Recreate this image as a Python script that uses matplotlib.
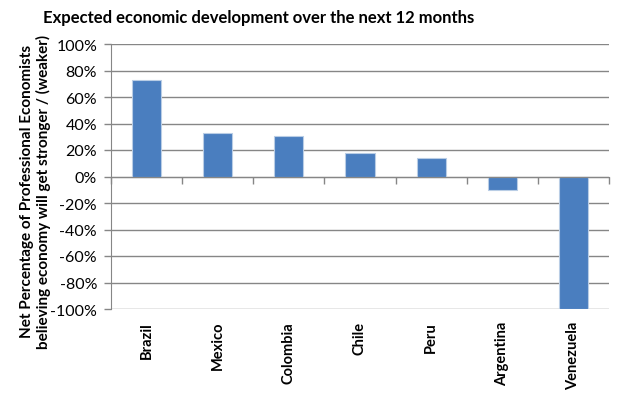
import matplotlib
matplotlib.use("Agg")
import matplotlib.pyplot as plt
import matplotlib.transforms as mtransforms
from matplotlib.ticker import FuncFormatter, MultipleLocator

categories = ["Brazil", "Mexico", "Colombia", "Chile", "Peru", "Argentina", "Venezuela"]
values = [72.5, 33.1, 30.3, 18.0, 14.2, -10.4, -100.0]
title = "Expected economic development over the next 12 months"
ylabel = "Net Percentage of Professional Economists\nbelieving economy will get stronger / (weaker)"

plt.rcParams['font.family'] = ['Lato', 'DejaVu Sans']

fig = plt.figure(figsize=(6.18, 4.10), dpi=100)
ax = fig.add_axes([111/618, 1-310/410, (609-111)/618, (310-45)/410])

x = list(range(1, len(categories)+1))
ax.bar(x, values, width=0.41, color="#4A7EBF", edgecolor="#B9CDE5", linewidth=0.8, zorder=3)

ax.set_xlim(0.5, len(categories)+0.5)
ax.set_ylim(-100, 100)
ax.yaxis.set_major_locator(MultipleLocator(20))
ax.yaxis.set_major_formatter(FuncFormatter(lambda v, p: f"{v:.0f}%"))
ax.grid(axis='y', color="#868686", linewidth=1.0, zorder=0)
ax.set_axisbelow(True)

for s in ['top', 'right']:
    ax.spines[s].set_visible(False)
ax.spines['left'].set_color("#868686")
ax.spines['bottom'].set_position(('data', 0))
ax.spines['bottom'].set_color("#868686")
ax.spines['bottom'].set_zorder(4)

ax.set_xticks([i + 0.5 for i in range(0, len(categories)+1)])
ax.set_xticklabels([])
ax.tick_params(axis='x', direction='out', length=5, color="#868686", width=1)
ax.tick_params(axis='y', direction='out', length=5, color="#868686", width=1,
               labelsize=11.5, pad=5)

trans = mtransforms.blended_transform_factory(ax.transData, ax.transAxes)
for xi, c in zip(x, categories):
    ax.text(xi, -0.045, c, rotation=90, ha='center', va='top', transform=trans,
            fontsize=10.5, fontweight='bold')

fig.text(0.418, 0.957, title, ha='center', va='center', fontsize=12, fontweight='bold')
fig.text(0.058, 0.532, ylabel, rotation=90, ha='center', va='center',
         fontsize=11, fontweight='bold', linespacing=1.15)

fig.savefig("out.png", dpi=100)
